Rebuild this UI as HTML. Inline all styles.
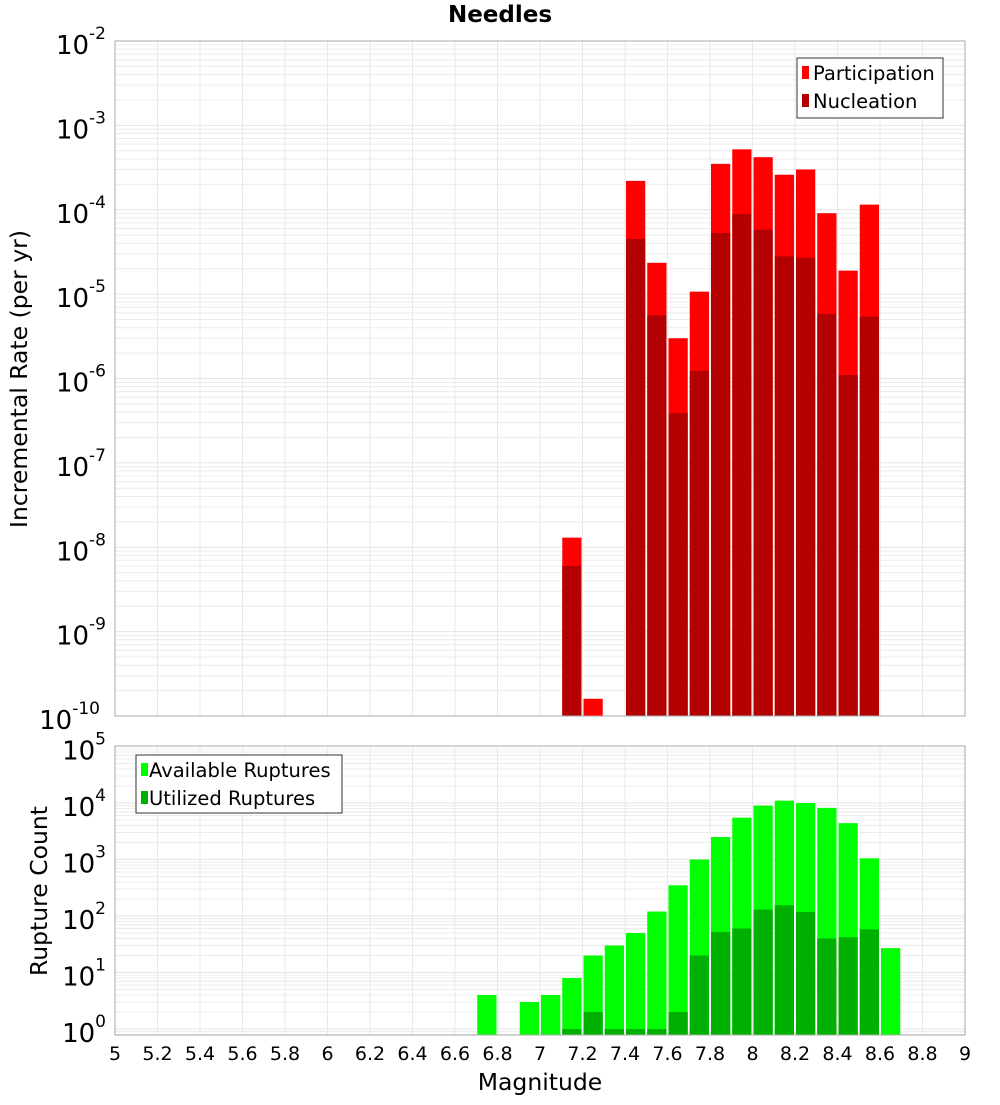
<!DOCTYPE html>
<html><head><meta charset="utf-8"><style>
body{margin:0;background:#fff;font-family:"Liberation Sans","DejaVu Sans",sans-serif}
</style></head><body>
<svg id="c" width="1000" height="1100" xmlns="http://www.w3.org/2000/svg" font-family="DejaVu Sans, Liberation Sans, sans-serif"></svg>
<script>
const bins=[7.1,7.2,7.4,7.5,7.6,7.7,7.8,7.9,8.0,8.1,8.2,8.3,8.4,8.5];
const participation=[1.3e-8,1.6e-10,2.2e-4,2.35e-5,3e-6,1.07e-5,3.5e-4,5.2e-4,4.2e-4,2.6e-4,3e-4,9.1e-5,1.9e-5,1.15e-4];
const nucleation=[6e-9,0,4.5e-5,5.6e-6,3.9e-7,1.23e-6,5.3e-5,8.9e-5,5.8e-5,2.8e-5,2.7e-5,5.8e-6,1.1e-6,5.4e-6];
const countBins=[6.7,6.9,7.0,7.1,7.2,7.3,7.4,7.5,7.6,7.7,7.8,7.9,8.0,8.1,8.2,8.3,8.4,8.5,8.6];
const available=[4,3,4,8,20,30,50,120,350,1000,2500,5500,9000,11000,10000,8200,4400,1050,27];
const utilized=[0,0,0,1,2,1,1,1,2,20,52,60,130,155,118,40,42,58,0];
const xTicks=[5,5.2,5.4,5.6,5.8,6,6.2,6.4,6.6,6.8,7,7.2,7.4,7.6,7.8,8,8.2,8.4,8.6,8.8,9];
const topExps=[-2,-3,-4,-5,-6,-7,-8,-9,-10];
const botExps=[5,4,3,2,1,0];

const svg=document.getElementById('c');const NS='http://www.w3.org/2000/svg';
function el(t,a,p){const e=document.createElementNS(NS,t);for(const k in a)e.setAttribute(k,a[k]);(p||svg).appendChild(e);return e;}
const X0=115,X1=965;const xs=v=>X0+(v-5)*(X1-X0)/4;
const T0=41,T1=716;const ty=v=>T0+(-2-Math.log10(v))*(T1-T0)/8;
const B0=746,B1=1035,BPD=56.5;const by=v=>1029-Math.log10(v)*BPD;

function panel(y0,y1,yfun,lo,hi,name){
  const g=el('g',{});
  
  
  for(let e=lo;e<hi;e++)for(let m=1;m<10;m++){const y=yfun(m*Math.pow(10,e));if(y<y0||y>y1)continue;
    el('line',{x1:X0,x2:X1,y1:y,y2:y,stroke:m==1?'#e4e4e4':'#ececec','stroke-width':1},g);}
  xTicks.forEach(t=>{const x=xs(t);el('line',{x1:x,x2:x,y1:y0,y2:y1,stroke:'#e8e8e8'},g);});
}
function frame(y0,y1,name){const r=el('rect',{x:X0,y:y0,width:X1-X0,height:y1-y0,fill:'none',stroke:'#aaa'});
  }
panel(T0,T1,ty,-10,-2,'top');
panel(B0,B1,by,-1,5,'bottom');

const bw=(X1-X0)/40;
bins.forEach((b,i)=>{
  const x=xs(b)+1,w=bw-2;
  if(participation[i]>0){const y=Math.max(T0,ty(participation[i]));const r=el('rect',{x:x,y:y,width:w,height:T1-y,fill:'#ff0000'});
    }
  if(nucleation[i]>0){const y=Math.max(T0,ty(nucleation[i]));const r=el('rect',{x:x,y:y,width:w,height:T1-y,fill:'#b30000'});
    }
});
countBins.forEach((b,i)=>{
  const x=xs(b)+1,w=bw-2;
  if(available[i]>0){const y=by(available[i]);const r=el('rect',{x:x,y:y,width:w,height:B1-y,fill:'#00ff00'});
    }
  if(utilized[i]>0){const y=by(utilized[i]);const r=el('rect',{x:x,y:y,width:w,height:B1-y,fill:'#00b000'});
    }
});
frame(T0,T1,'top-plot');frame(B0,B1,'bottom-plot');

function ylab(y,e,name){const t=el('text',{x:e<=-10?100:106,y:y+13,'text-anchor':'end','font-size':26,fill:'#000'});
  
  t.appendChild(document.createTextNode('10'));
  const s=el('tspan',{dy:-15,'font-size':17},t);s.textContent=String(e);}
topExps.forEach(e=>ylab(ty(Math.pow(10,e)),e,'top-y-tick'));
botExps.forEach(e=>ylab(by(Math.pow(10,e)),e,'bottom-y-tick'));
xTicks.forEach(t=>{const x=xs(t);const tx=el('text',{x:x,y:1060,'text-anchor':'middle','font-size':19,fill:'#000'});
  
  tx.textContent=String(Math.round(t*10)/10);});
</script>
<svg width="1000" height="1100" style="position:absolute;left:0;top:0" xmlns="http://www.w3.org/2000/svg" font-family="DejaVu Sans, Liberation Sans, sans-serif">
<text x="500" y="22" text-anchor="middle" font-size="23" font-weight="bold">Needles</text>
<text x="540" y="1090" text-anchor="middle" font-size="23.5">Magnitude</text>
<text transform="translate(27,379) rotate(-90)" text-anchor="middle" font-size="23.5">Incremental Rate (per yr)</text>
<text transform="translate(47,891) rotate(-90)" text-anchor="middle" font-size="23.5">Rupture Count</text>
<g>
<rect x="797" y="58" width="146" height="60" fill="#fff" stroke="#333"/>
<rect x="802" y="66" width="7" height="13" fill="#ff0000"/>
<text x="813" y="80" font-size="19.5">Participation</text>
<rect x="802" y="94" width="7" height="13" fill="#b30000"/>
<text x="813" y="108" font-size="19.5">Nucleation</text>
</g>
<g>
<rect x="136" y="755" width="206" height="58" fill="#fff" stroke="#333"/>
<rect x="141" y="763" width="7" height="13" fill="#00ff00"/>
<text x="149" y="777" font-size="19.5">Available Ruptures</text>
<rect x="141" y="791" width="7" height="13" fill="#00b000"/>
<text x="149" y="805" font-size="19.5">Utilized Ruptures</text>
</g>
</svg>
</body></html>
